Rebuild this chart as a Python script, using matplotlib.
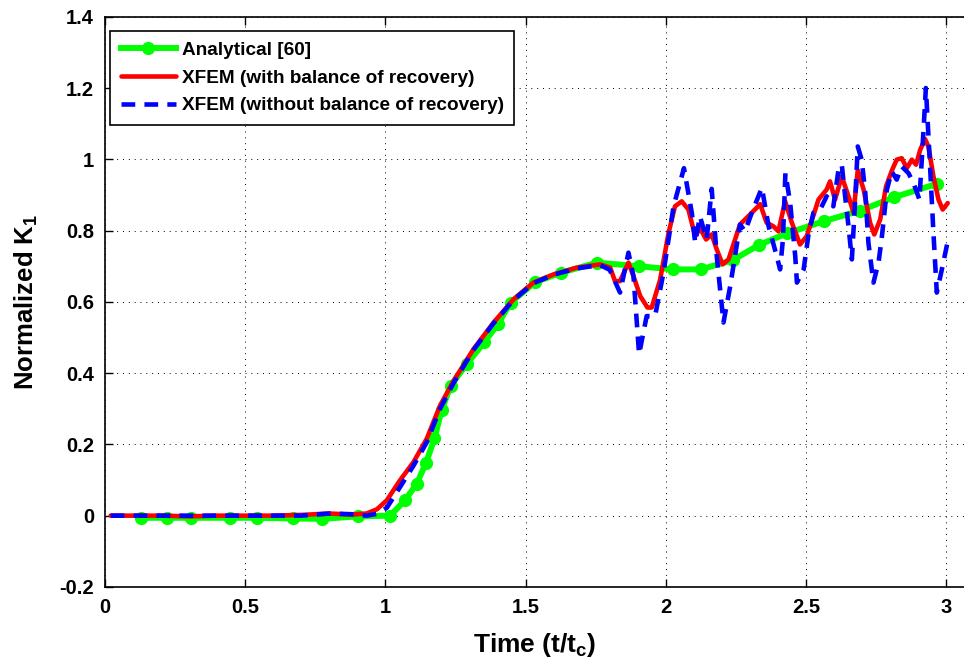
import matplotlib
matplotlib.use("Agg")
import matplotlib.pyplot as plt

# -----------------------------------
# DATA
# -----------------------------------

# Analytical solution (marked points)
t_ana = [0.128, 0.221, 0.307, 0.446, 0.542, 0.671, 0.774, 0.903, 1.017,
         1.07, 1.112, 1.145, 1.175, 1.201, 1.233, 1.29, 1.352, 1.401, 1.447,
         1.534, 1.627, 1.755, 1.903, 2.025, 2.125, 2.239, 2.331, 2.432, 2.563,
         2.694, 2.816, 2.967]
k_ana = [-0.006, -0.006, -0.006, -0.006, -0.006, -0.008, -0.009, -0.002, 0.0,
         0.043, 0.09, 0.148, 0.217, 0.297, 0.365, 0.425, 0.486, 0.537, 0.598,
         0.655, 0.682, 0.71, 0.70, 0.691, 0.691, 0.717, 0.759, 0.792, 0.826,
         0.856, 0.894, 0.931]

# XFEM with balance of recovery
t_rec = [0.02, 0.1, 0.2, 0.3, 0.4, 0.5, 0.6, 0.7, 0.8, 0.88,
         0.933, 0.97, 1.005, 1.052, 1.1, 1.147, 1.195, 1.243, 1.314, 1.386,
         1.457, 1.528, 1.6, 1.683, 1.766, 1.802, 1.819, 1.837, 1.867, 1.885,
         1.909, 1.935, 1.95, 1.98, 2.01, 2.033, 2.057, 2.081, 2.105, 2.122,
         2.144, 2.164, 2.182, 2.203, 2.224, 2.265, 2.307, 2.337, 2.36, 2.384,
         2.402, 2.426, 2.45, 2.479, 2.503, 2.545, 2.574, 2.586, 2.604, 2.628,
         2.652, 2.67, 2.685, 2.706, 2.729, 2.744, 2.765, 2.786, 2.807, 2.824,
         2.842, 2.86, 2.878, 2.893, 2.908, 2.925, 2.937, 2.955, 2.973, 2.988,
         3.006]
k_rec = [0.0, 0.0, 0.0, -0.002, 0.0, 0.0, 0.0, 0.002, 0.006, 0.003,
         0.006, 0.018, 0.043, 0.099, 0.15, 0.215, 0.309, 0.378, 0.467, 0.542,
         0.607, 0.654, 0.677, 0.696, 0.705, 0.696, 0.658, 0.658, 0.71, 0.672,
         0.616, 0.584, 0.584, 0.662, 0.793, 0.868, 0.882, 0.859, 0.784, 0.807,
         0.775, 0.789, 0.747, 0.705, 0.719, 0.817, 0.85, 0.874, 0.822, 0.812,
         0.798, 0.882, 0.822, 0.761, 0.784, 0.887, 0.915, 0.938, 0.887, 0.952,
         0.896, 0.85, 0.969, 0.915, 0.822, 0.789, 0.831, 0.924, 0.969, 0.999,
         1.003, 0.975, 0.999, 0.985, 1.027, 1.057, 1.036, 0.952, 0.887, 0.859,
         0.877]

# XFEM without balance of recovery
t_norec = [0.02, 0.1, 0.2, 0.3, 0.4, 0.5, 0.6, 0.7, 0.8, 0.88,
           0.933, 0.97, 1.005, 1.052, 1.1, 1.147, 1.195, 1.243, 1.314, 1.386,
           1.457, 1.528, 1.6, 1.683, 1.766, 1.80, 1.837, 1.867, 1.885, 1.905,
           1.932, 1.962, 1.992, 2.028, 2.065, 2.093, 2.105, 2.122, 2.146, 2.164,
           2.182, 2.206, 2.23, 2.265, 2.283, 2.307, 2.343, 2.367, 2.396, 2.408,
           2.418, 2.427, 2.444, 2.462, 2.468, 2.492, 2.51, 2.527, 2.551, 2.574,
           2.598, 2.616, 2.628, 2.64, 2.652, 2.664, 2.676, 2.685, 2.699, 2.712,
           2.723, 2.741, 2.759, 2.77, 2.789, 2.806, 2.824, 2.842, 2.866, 2.884,
           2.905, 2.919, 2.928, 2.943, 2.955, 2.967, 2.985, 3.005]
k_norec = [0.0, 0.0, 0.0, 0.0, 0.0, 0.0, 0.0, 0.0, 0.006, 0.004,
           0.0, 0.005, 0.022, 0.08, 0.14, 0.205, 0.3, 0.372, 0.465, 0.54,
           0.605, 0.652, 0.676, 0.694, 0.703, 0.69, 0.626, 0.738, 0.672, 0.453,
           0.56, 0.56, 0.682, 0.868, 0.975, 0.85, 0.766, 0.84, 0.775, 0.917,
           0.728, 0.542, 0.644, 0.817, 0.798, 0.85, 0.92, 0.812, 0.728, 0.691,
           0.775, 0.961, 0.877, 0.728, 0.654, 0.691, 0.793, 0.85, 0.859, 0.896,
           0.868, 0.969, 0.985, 0.896, 0.812, 0.719, 0.887, 1.036, 0.999, 0.905,
           0.766, 0.654, 0.71, 0.775, 0.915, 0.966, 0.943, 0.98, 0.961, 0.933,
           0.887, 1.073, 1.2, 0.98, 0.793, 0.626, 0.691, 0.766]

x_ticks = [0, 0.5, 1, 1.5, 2, 2.5, 3]
x_tick_labels = ["0", "0.5", "1", "1.5", "2", "2.5", "3"]
y_ticks = [-0.2, 0, 0.2, 0.4, 0.6, 0.8, 1, 1.2, 1.4]
y_tick_labels = ["-0.2", "0", "0.2", "0.4", "0.6", "0.8", "1", "1.2", "1.4"]

# -----------------------------------
# STYLE
# -----------------------------------

plt.rcParams["font.family"] = ["Liberation Sans", "DejaVu Sans"]
plt.rcParams["font.weight"] = "bold"
plt.rcParams["mathtext.fontset"] = "custom"
plt.rcParams["mathtext.rm"] = "Liberation Sans:bold"
plt.rcParams["mathtext.it"] = "Liberation Sans:bold"
plt.rcParams["mathtext.default"] = "rm"

# -----------------------------------
# PLOT
# -----------------------------------

fig = plt.figure(figsize=(9.64, 6.70), dpi=100)
# axes run past the right edge of the figure
ax = fig.add_axes([0.109, 0.124, 0.916, 0.851])

ax.plot(t_ana, k_ana, color=(0, 1, 0), lw=4.3, marker="o", ms=8.5,
        solid_joinstyle="round", label="Analytical [60]", zorder=3)
ax.plot(t_rec, k_rec, color=(1, 0, 0), lw=3.3,
        solid_joinstyle="round", solid_capstyle="round",
        label="XFEM (with balance of recovery)", zorder=4)
ax.plot(t_norec, k_norec, color=(0, 0, 1), lw=3.3, dashes=(3, 2),
        label="XFEM (without balance of recovery)", zorder=5)

ax.set_xlim(0, 3.15)
ax.set_ylim(-0.2, 1.4)
ax.set_xticks(x_ticks)
ax.set_xticklabels(x_tick_labels)
ax.set_yticks(y_ticks)
ax.set_yticklabels(y_tick_labels)

ax.tick_params(direction="in", length=6, width=1, labelsize=14.5,
               top=True, right=True, pad=8)
for lbl in ax.get_xticklabels() + ax.get_yticklabels():
    lbl.set_fontweight("bold")

for s in ax.spines.values():
    s.set_linewidth(1.2)

ax.grid(True, color="black", linestyle=(0, (1, 5)), linewidth=0.7)
ax.set_axisbelow(True)

ax.set_xlabel(r"Time (t/t$_{\rm c}$)", fontsize=19, fontweight="bold")
ax.xaxis.set_label_coords(0.487, -0.078)
ax.set_ylabel(r"Normalized K$_{\rm 1}$", fontsize=18.5, fontweight="bold",
              labelpad=14)

leg = ax.legend(loc="upper left", bbox_to_anchor=(0.0058, 0.975),
                borderaxespad=0, fontsize=13.7, handlelength=2.9,
                handletextpad=0.3, labelspacing=0.55, borderpad=0.55,
                fancybox=False, framealpha=1, edgecolor="black")
leg.get_frame().set_linewidth(1.2)
for txt in leg.get_texts():
    txt.set_fontweight("bold")

fig.savefig("out.png", dpi=100)
